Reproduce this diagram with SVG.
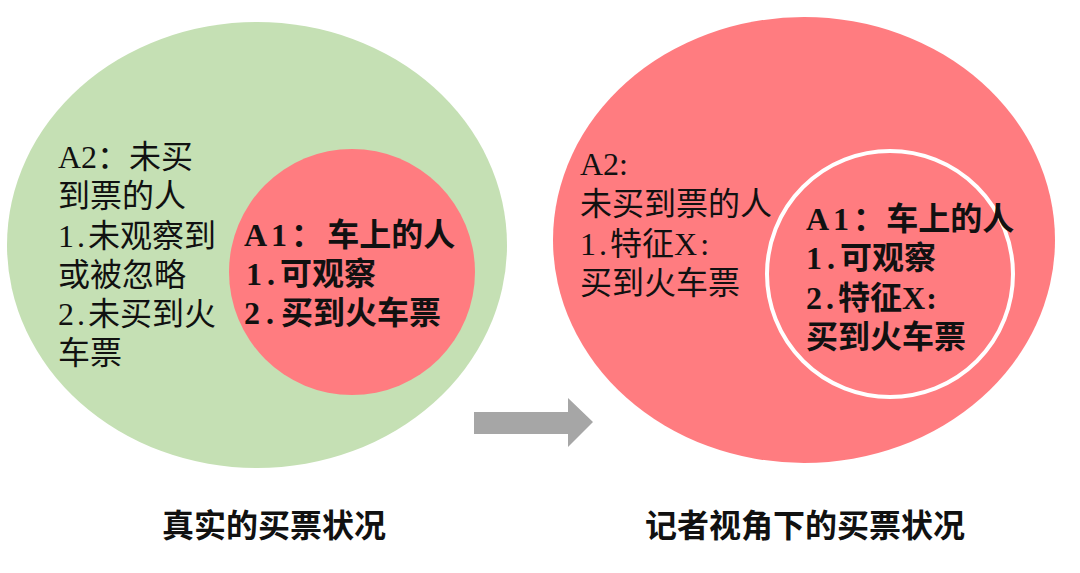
<svg xmlns="http://www.w3.org/2000/svg" width="1080" height="573" viewBox="0 0 1080 573">
<style>
.t{font-family:"Liberation Serif","Noto Sans CJK SC",serif;font-size:32px;fill:#111;}
.b{font-weight:bold;}
.n{letter-spacing:4px;}
.green{fill:#c5e0b4;}
.red{fill:#ff7c80;}
</style>
<rect width="1080" height="573" fill="#ffffff"/>
<g id="real">
<ellipse class="green" cx="257" cy="245" rx="250" ry="223"/>
<text class="t"><tspan x="58" y="168">A2：未买</tspan><tspan x="58" y="207">到票的人</tspan><tspan x="58" y="247"><tspan style="letter-spacing:3px">1.</tspan>未观察到</tspan><tspan x="58" y="286">或被忽略</tspan><tspan x="58" y="325"><tspan style="letter-spacing:3px">2.</tspan>未买到火</tspan><tspan x="58" y="364">车票</tspan></text>
</g>
<g id="real-a1">
<circle class="red" cx="352" cy="272" r="123"/>
<text class="t b"><tspan x="244" y="246"><tspan class="n">A1</tspan>：<tspan dx="4">车上的人</tspan></tspan><tspan x="246" y="285"><tspan style="letter-spacing:5px">1.</tspan>可观察</tspan><tspan x="244" y="324"><tspan style="letter-spacing:6px">2.</tspan><tspan dx="1">买到火车票</tspan></tspan></text>
</g>
<g id="reporter">
<ellipse class="red" cx="804" cy="240" rx="251" ry="223"/>
<text class="t"><tspan x="580" y="175">A2:</tspan><tspan x="580" y="215">未买到票的人</tspan><tspan x="580" y="255"><tspan style="letter-spacing:3px">1.</tspan>特征<tspan style="letter-spacing:3px">X:</tspan></tspan><tspan x="580" y="294">买到火车票</tspan></text>
</g>
<g id="reporter-a1">
<circle cx="890" cy="274" r="123" fill="none" stroke="#ffffff" stroke-width="4"/>
<text class="t b"><tspan x="806" y="230"><tspan class="n">A1</tspan>：<tspan dx="1">车上的人</tspan></tspan><tspan x="806" y="269"><tspan style="letter-spacing:5px">1.</tspan>可观察</tspan><tspan x="806" y="309"><tspan style="letter-spacing:4px">2.</tspan>特征<tspan style="letter-spacing:1px">X:</tspan></tspan><tspan x="806" y="348">买到火车票</tspan></text>
</g>
<g id="connectors">
<polygon points="474,412 568,412 568,398 593,422 568,447 568,434 474,434" fill="#a6a6a6"/>
</g>
<g id="titles">
<text class="t b" x="162" y="537">真实的买票状况</text>
<text class="t b" x="645" y="537">记者视角下的买票状况</text>
</g>
</svg>
